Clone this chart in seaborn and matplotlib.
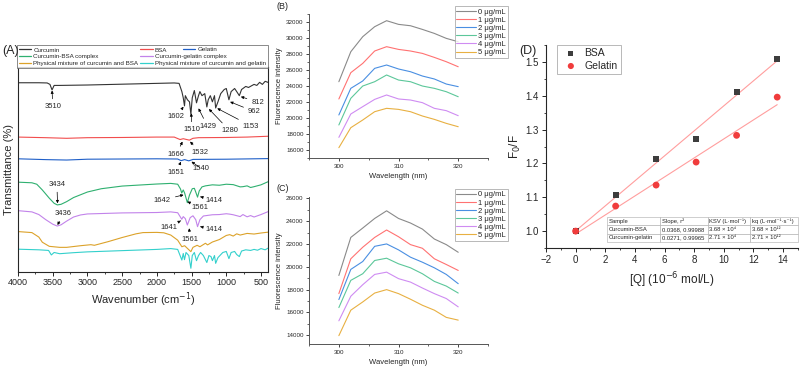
import numpy as np
import pandas as pd
import seaborn as sns
import matplotlib.pyplot as plt
from matplotlib.lines import Line2D
from matplotlib.ticker import MultipleLocator, AutoMinorLocator

# ---------------- (A) FTIR spectra (wavenumber cm-1, transmittance, offset arb.)
curcumin_wn = [4000, 3700, 3580, 3540, 3510, 3480, 3400, 3000, 2500, 2000, 1750, 1680, 1640, 1620,
               1602, 1590, 1560, 1530, 1510, 1490, 1460, 1429, 1400, 1380, 1350, 1310, 1280, 1260,
               1230, 1200, 1170, 1153, 1120, 1080, 1030, 1000, 962, 930, 880, 850, 812, 780, 720,
               680, 600, 560, 520, 480, 440, 400]
curcumin_t = [92.3, 92.3, 92.2, 91.5, 88.8, 91.0, 91.0, 91.2, 91.6, 92.0, 92.2, 92.0, 88.0, 85.0,
              81.0, 86.0, 84.0, 83.0, 77.0, 85.0, 88.5, 82.5, 86.0, 88.0, 86.0, 87.0, 80.5, 84.0,
              86.0, 83.0, 86.0, 80.0, 83.0, 87.0, 89.0, 89.5, 84.0, 88.0, 89.5, 88.0, 86.0, 89.0,
              90.5, 90.0, 91.5, 91.0, 92.5, 91.5, 93.0, 92.5]

bsa_wn = [4000, 3600, 3300, 3000, 2500, 2000, 1750, 1666, 1620, 1532, 1480, 1400, 1000, 700, 400]
bsa_t = [65.8, 65.5, 65.2, 65.5, 65.6, 65.8, 65.8, 64.6, 65.0, 64.3, 65.2, 65.5, 65.6, 65.8, 66.2]

gelatin_wn = [4000, 3600, 3300, 3000, 2000, 1700, 1651, 1600, 1540, 1480, 1000, 400]
gelatin_t = [55.2, 54.8, 54.6, 55.0, 55.2, 55.1, 54.3, 54.8, 54.2, 54.9, 55.0, 55.3]

cur_bsa_wn = [4000, 3800, 3730, 3650, 3550, 3480, 3434, 3380, 3300, 3200, 3000, 2800, 2500, 2200,
              2000, 1800, 1700, 1660, 1642, 1620, 1600, 1561, 1530, 1490, 1460, 1440, 1414, 1390,
              1350, 1300, 1200, 1100, 1000, 900, 800, 760, 700, 650, 600, 500, 400]
cur_bsa_t = [43.8, 43.5, 42.8, 40.0, 36.0, 33.5, 32.7, 33.0, 34.3, 36.3, 39.0, 40.6, 41.9, 42.5,
             42.9, 43.2, 42.8, 40.5, 38.5, 40.0, 38.5, 33.8, 37.5, 40.6, 40.8, 39.0, 36.5, 39.5,
             41.5, 42.0, 42.5, 42.3, 42.8, 42.6, 41.5, 41.6, 42.0, 41.2, 41.6, 42.5, 44.0]

cur_gel_wn = [4000, 3800, 3700, 3600, 3500, 3436, 3380, 3300, 3200, 3100, 3000, 2500, 2000, 1800,
              1700, 1641, 1620, 1590, 1561, 1520, 1480, 1440, 1414, 1380, 1330, 1200, 1100, 1000,
              950, 900, 800, 760, 700, 650, 600, 500, 400]
cur_gel_t = [29.9, 29.3, 28.0, 25.5, 23.3, 22.4, 23.0, 24.8, 26.8, 27.8, 28.3, 28.8, 29.0, 29.3,
             28.9, 25.7, 27.0, 26.0, 22.9, 26.5, 27.4, 25.5, 22.1, 25.5, 27.3, 27.9, 28.0, 28.4,
             28.2, 27.9, 27.0, 28.0, 26.9, 27.5, 26.8, 28.0, 29.4]

mix_bsa_wn = [4000, 3800, 3700, 3650, 3550, 3400, 3300, 3100, 2950, 2900, 2700, 2500, 2300, 2200,
              2000, 1900, 1800, 1700, 1640, 1600, 1560, 1510, 1480, 1420, 1380, 1300, 1270, 1200,
              1100, 1000, 950, 900, 850, 800, 700, 600, 500, 400]
mix_bsa_t = [19.7, 19.2, 17.0, 14.5, 12.5, 12.0, 12.0, 12.8, 13.3, 13.0, 14.8, 16.8, 18.6, 19.2,
             19.3, 19.1, 18.0, 15.5, 12.3, 12.8, 11.5, 9.9, 12.0, 13.0, 12.3, 14.0, 13.2, 14.6,
             15.8, 17.8, 18.2, 17.5, 18.6, 18.0, 18.8, 18.5, 19.0, 19.4]

mix_gel_wn = [4000, 3700, 3560, 3520, 3480, 3400, 3200, 3000, 2500, 2000, 1800, 1700, 1640, 1620,
              1602, 1580, 1540, 1510, 1490, 1460, 1429, 1400, 1370, 1330, 1280, 1250, 1220, 1200,
              1170, 1153, 1120, 1050, 1000, 962, 930, 880, 850, 812, 780, 720, 650, 600, 550,
              500, 440, 400]
mix_gel_t = [11.1, 10.8, 10.5, 8.3, 9.5, 8.9, 9.4, 9.8, 10.4, 11.0, 11.4, 11.0, 5.8, 9.0,
             6.0, 9.5, 8.0, 1.8, 8.0, 9.5, 5.5, 8.0, 9.5, 8.0, 4.6, 8.0, 7.5, 5.5,
             8.0, 4.2, 7.0, 9.5, 10.0, 6.5, 9.5, 10.0, 8.5, 7.5, 10.2, 10.8, 10.5, 11.0, 10.6,
             11.4, 10.8, 11.6]

spectra_names = ["Curcumin", "BSA", "Gelatin", "Curcumin-BSA complex", "Curcumin-gelatin complex",
                 "Physical mixture of curcumin and BSA", "Physical mixture of curcumin and gelatin"]
spectra_colors = ["#333333", "#f24d4d", "#1f5fc8", "#2fb070", "#c283ea", "#dca22a", "#33d0cc"]

# peak labels: (text, tip wn, tip T, text wn, text T)
peak_labels = [
    ("3510", 3510, 88.5, 3498, 80.5), ("1602", 1616, 80.6, 1720, 75.8),
    ("1510", 1505, 77.4, 1496, 69.3), ("1429", 1400, 79.8, 1269, 71.0),
    ("1280", 1250, 79.5, 951, 68.9), ("1153", 1130, 79.8, 643, 71.2),
    ("962", 945, 83.0, 595, 78.2), ("812", 790, 85.5, 546, 82.8),
    ("1666", 1631, 63.6, 1718, 57.4), ("1532", 1521, 63.6, 1376, 58.2),
    ("1651", 1655, 53.8, 1718, 48.4), ("1540", 1501, 53.8, 1366, 50.6),
    ("3434", 3431, 33.5, 3440, 42.9), ("1642", 1616, 37.6, 1921, 35.1),
    ("1561", 1559, 34.3, 1380, 31.4), ("1414", 1376, 36.7, 1174, 35.1),
    ("3436", 3431, 22.9, 3344, 28.6), ("1641", 1655, 25.0, 1825, 21.8),
    ("1561", 1535, 21.3, 1521, 16.0), ("1414", 1376, 22.1, 1174, 20.8),
]

# ---------------- (B)/(C) fluorescence spectra
wavelength = [300, 302, 304, 306, 308, 310, 312, 314, 316, 318, 320]
conc_labels = ["0 μg/mL", "1 μg/mL", "2 μg/mL", "3 μg/mL", "4 μg/mL", "5 μg/mL"]
conc_colors = ["#8a8a8a", "#ff7272", "#4a8fe2", "#5cc79a", "#cf8cf2", "#e8b042"]
bsa_fluo = [
    [24540, 28290, 30170, 31420, 32170, 31710, 31540, 31080, 30580, 29960, 29540],
    [22380, 25670, 26830, 28380, 28920, 28580, 28380, 28080, 27580, 27040, 26410],
    [20380, 23710, 24630, 26210, 26630, 26130, 25790, 25250, 24880, 24250, 23920],
    [19130, 22460, 24000, 24540, 25380, 24750, 24540, 24000, 23710, 23290, 22660],
    [17580, 20500, 21420, 22330, 22880, 22380, 22250, 21920, 21210, 20920, 20290],
    [16290, 18790, 19750, 20790, 21210, 21080, 20790, 20250, 19830, 19330, 18910],
]
gel_fluo = [
    [19240, 22570, 23390, 24230, 24900, 24230, 23830, 23300, 22430, 21940, 21270],
    [17650, 20700, 21710, 22570, 23220, 22630, 21940, 21620, 20700, 20200, 19680],
    [17130, 19770, 20460, 21790, 22000, 21480, 20840, 20400, 19910, 19330, 18520],
    [16430, 18810, 19390, 20550, 20750, 20260, 19910, 19390, 18720, 18310, 17700],
    [15270, 17420, 18430, 19330, 19530, 18960, 18660, 18140, 17650, 17220, 16490],
    [13970, 16200, 16920, 17700, 18000, 17650, 17160, 16630, 16200, 15570, 15330],
]

# ---------------- (D) Stern-Volmer
q_conc = [0, 2.70, 5.43, 8.13, 10.86, 13.60]
f0f_bsa = [1.0, 1.106, 1.212, 1.271, 1.411, 1.509]
f0f_gel = [1.0, 1.074, 1.136, 1.204, 1.283, 1.396]
table_rows = [
    ["Sample", "Slope, r²", "KSV (L·mol⁻¹)", "kq (L·mol⁻¹·s⁻¹)"],
    ["Curcumin-BSA", "0.0368, 0.99988", "3.68 × 10⁴", "3.68 × 10¹²"],
    ["Curcumin-gelatin", "0.0271, 0.99965", "2.71 × 10⁴", "2.71 × 10¹²"],
]

sns.set_style("ticks")
plt.rcParams["font.family"] = ["Liberation Sans", "DejaVu Sans"]
plt.rcParams["axes.linewidth"] = 0.8

fig = plt.figure(figsize=(8.01, 3.70), dpi=100)

# ======== panel A
axA = fig.add_axes([0.0225, 0.265, 0.312, 0.554])
spectra = [(curcumin_wn, curcumin_t), (bsa_wn, bsa_t), (gelatin_wn, gelatin_t),
           (cur_bsa_wn, cur_bsa_t), (cur_gel_wn, cur_gel_t),
           (mix_bsa_wn, mix_bsa_t), (mix_gel_wn, mix_gel_t)]
for (wn, t), col in zip(spectra, spectra_colors):
    sns.lineplot(x=wn, y=t, ax=axA, color=col, lw=0.8, sort=False, estimator=None)
for txt, xw, yt, tx, ty in peak_labels:
    axA.annotate(txt, xy=(xw, yt), xytext=(tx, ty), fontsize=5.5, ha="center", va="center",
                 arrowprops=dict(arrowstyle="-|>", color="k", lw=0.5, mutation_scale=4,
                                 shrinkA=1, shrinkB=0))
axA.set_xlim(4000, 400)
axA.set_ylim(0, 100)
axA.set_yticks([])
axA.xaxis.set_major_locator(MultipleLocator(500))
axA.xaxis.set_minor_locator(MultipleLocator(250))
axA.tick_params(axis="x", labelsize=6.5, length=3, width=0.7, pad=1.5)
axA.tick_params(axis="x", which="minor", length=1.5, width=0.6)
axA.set_xlabel("Wavenumber (cm$^{-1}$)", fontsize=8, labelpad=2)
axA.set_ylabel("Transmittance (%)", fontsize=8, labelpad=3)

h = [Line2D([], [], color=c, lw=0.9) for c in spectra_colors]
order = [0, 3, 5, 1, 4, 6]
legA = axA.legend([h[i] for i in order], [spectra_names[i] for i in order], ncol=2,
                  loc="lower left", bbox_to_anchor=(-0.005, 0.995), fontsize=4.5,
                  handlelength=2.0, handletextpad=0.3, columnspacing=0.3, labelspacing=0.2,
                  borderpad=0.35, frameon=True, fancybox=False, edgecolor="#555555",
                  borderaxespad=0)
legA.get_frame().set_linewidth(0.6)
axA.add_artist(legA)
legA2 = axA.legend([h[2]], [spectra_names[2]], loc="upper left",
                   bbox_to_anchor=(0.66, 1.098), fontsize=4.5, handlelength=2.0,
                   handletextpad=0.3, frameon=False, borderpad=0, borderaxespad=0)

# ======== panels B and C
def fluo_panel(rect, data, ylim):
    ax = fig.add_axes(rect)
    rows = []
    for lab, vals in zip(conc_labels, data):
        for w, v in zip(wavelength, vals):
            rows.append({"wl": w, "I": v, "conc": lab})
    df = pd.DataFrame(rows)
    sns.lineplot(data=df, x="wl", y="I", hue="conc", palette=conc_colors, ax=ax,
                 lw=0.8, estimator=None, sort=False)
    ax.set_xlim(295, 325)
    ax.set_ylim(*ylim)
    ax.xaxis.set_major_locator(MultipleLocator(10))
    ax.xaxis.set_minor_locator(MultipleLocator(5))
    ax.yaxis.set_major_locator(MultipleLocator(2000))
    ax.yaxis.set_minor_locator(MultipleLocator(1000))
    ax.tick_params(labelsize=4.5, length=2.5, width=0.6, pad=1.5)
    ax.tick_params(which="minor", length=1.5, width=0.5)
    for s in ["top", "right"]:
        ax.spines[s].set_visible(False)
    for s in ["left", "bottom"]:
        ax.spines[s].set_color("#555555")
        ax.spines[s].set_linewidth(0.7)
    ax.set_xlabel("Wavelength (nm)", fontsize=5.5, labelpad=3)
    ax.set_ylabel("Fluorescence intensity", fontsize=5.5, labelpad=2)
    leg = ax.legend(loc="upper right", bbox_to_anchor=(1.13, 1.08), fontsize=5.5,
                    handlelength=2.5, handletextpad=0.3, labelspacing=0.1, borderpad=0.25,
                    fancybox=False, edgecolor="#999999", title=None)
    leg.get_frame().set_linewidth(0.6)
    return ax

axB = fluo_panel([0.3858, 0.573, 0.2235, 0.389], bsa_fluo, (15000, 33000))
axC = fluo_panel([0.3858, 0.0703, 0.2235, 0.397], gel_fluo, (13240, 26100))

# ======== panel D
axD = fig.add_axes([0.6816, 0.3297, 0.3146, 0.5486])
sns.regplot(x=q_conc, y=f0f_bsa, ax=axD, scatter=False, ci=None, truncate=True,
            line_kws=dict(color="#ff9e9e", lw=0.8))
sns.regplot(x=q_conc, y=f0f_gel, ax=axD, scatter=False, ci=None, truncate=True,
            line_kws=dict(color="#ff9e9e", lw=0.8))
sns.scatterplot(x=q_conc, y=f0f_bsa, ax=axD, marker="s", s=18, color="#3d3d3d",
                edgecolor="none", label="BSA", zorder=3)
sns.scatterplot(x=q_conc, y=f0f_gel, ax=axD, marker="o", s=24, color="#f03c3c",
                edgecolor="none", label="Gelatin", zorder=3)
axD.set_xlim(-2, 15)
axD.set_ylim(0.95, 1.55)
axD.xaxis.set_major_locator(MultipleLocator(2))
axD.xaxis.set_minor_locator(MultipleLocator(1))
axD.yaxis.set_major_locator(MultipleLocator(0.1))
axD.yaxis.set_minor_locator(MultipleLocator(0.05))
axD.tick_params(labelsize=7, length=3, width=0.7, pad=2)
axD.tick_params(which="minor", length=1.5, width=0.6)
for s in ["top", "right"]:
    axD.spines[s].set_visible(False)
axD.set_xlabel("[Q] (10$^{-6}$ mol/L)", fontsize=8.5, labelpad=4)
axD.set_ylabel("F$_0$/F", fontsize=8.5, labelpad=2)
legD = axD.legend(loc="upper left", bbox_to_anchor=(0.045, 1.0), fontsize=7.5,
                  handletextpad=0.3, labelspacing=0.25, borderpad=0.3, fancybox=False,
                  edgecolor="#999999", markerscale=0.9, borderaxespad=0)
legD.get_frame().set_linewidth(0.6)

tbl = axD.table(cellText=table_rows, cellLoc="left", bbox=[0.242, 0.03, 0.758, 0.123],
                colWidths=[0.28, 0.25, 0.22, 0.25])
tbl.auto_set_font_size(False)
tbl.set_fontsize(4.2)
for cell in tbl.get_celld().values():
    cell.set_edgecolor("#aaaaaa")
    cell.set_linewidth(0.4)
    cell.PAD = 0.03

# panel letters
fig.text(0.003, 0.855, "(A)", fontsize=9)
fig.text(0.345, 0.975, "(B)", fontsize=6.5)
fig.text(0.345, 0.485, "(C)", fontsize=6.5)
fig.text(0.648, 0.855, "(D)", fontsize=9)

fig.savefig("out.png", dpi=100)
